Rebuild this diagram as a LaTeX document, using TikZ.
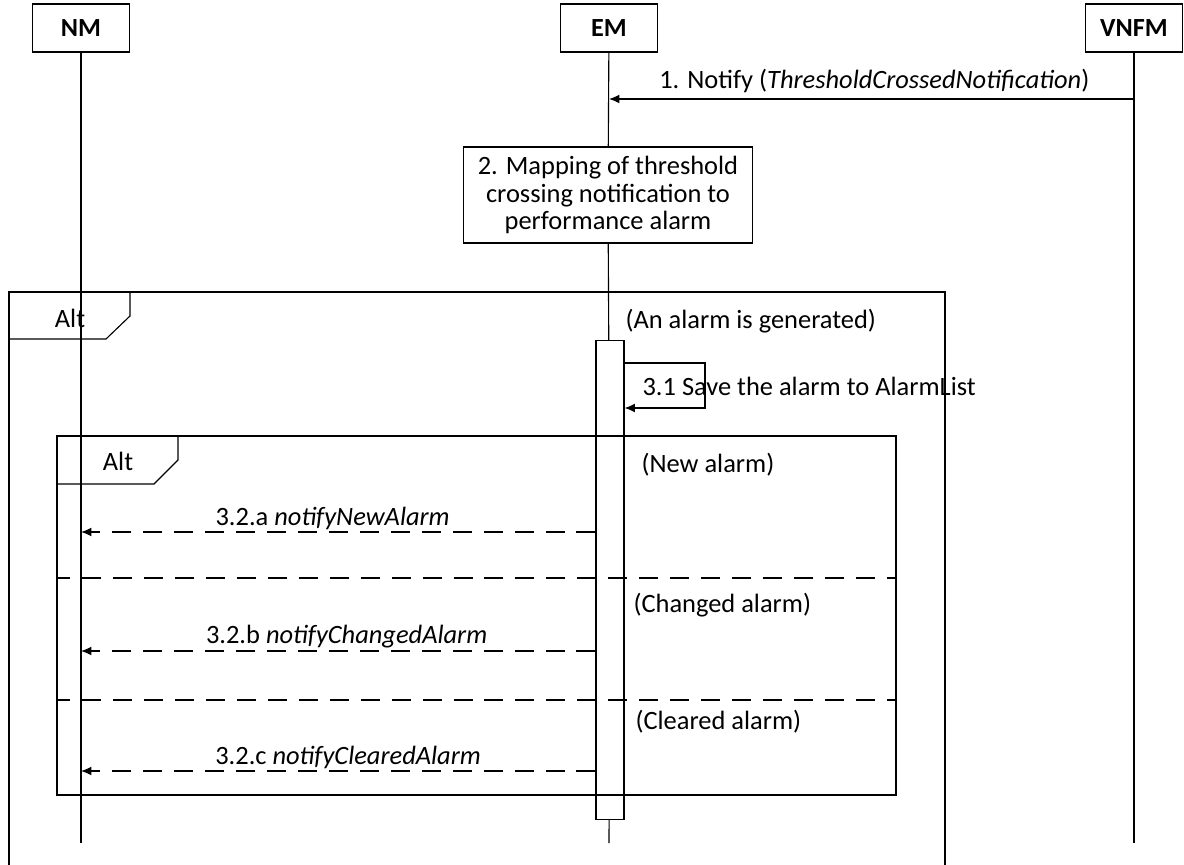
\documentclass[tikz,border=0pt]{standalone}
\usepackage{fontspec}
\setmainfont{Carlito}
\usepackage{tikz}
\usetikzlibrary{arrows.meta,positioning,calc}
\newcommand{\lbl}{\fontsize{18.8}{19.8}\selectfont}

\begin{document}
\begin{tikzpicture}[
  x=0.025cm,y=-0.025cm,
  >={Latex[length=2.6mm,width=2.2mm]},
  font=\lbl,
  line width=0.8pt,
  head/.style={draw,minimum width=2.425cm,minimum height=1.2cm,font=\fontsize{18.6}{20}\selectfont\bfseries},
  actbox/.style={draw,fill=white,minimum width=7.225cm,minimum height=2.4cm,align=center},
  bar/.style={draw,fill=white,minimum width=0.7cm,minimum height=11.95cm,inner sep=0pt},
  msg/.style={->},
  reply/.style={->,dash pattern=on 13.5pt off 8.5pt},
  guard/.style={anchor=west,inner sep=0pt}
]
\useasboundingbox (0,0) rectangle (1184,865);
% participants
\node[head] (nm) at (81,28) {NM};
\node[head] (em) at (609,28) {EM};
\node[head] (vnfm) at (1134,28) {VNFM};
\coordinate (nmend) at (81,843);
\coordinate (emend) at (609,843);
\coordinate (vnfmend) at (1134,843);
\node[actbox] (map) at (608,195) {2. Mapping of threshold\\crossing notification to\\performance alarm};
\node[bar] (act) at (610,580) {};
% lifelines
\draw (nm) -- (nmend);
\draw (vnfm) -- (vnfmend);
\draw (em) -- (map);
\draw (map) -- (act);
\draw (act) -- (emend);
% step 1
\coordinate (n1) at (1134,99);
\draw[msg] (n1) -- (em |- n1) node[midway,above=1pt,xshift=2pt] {1. Notify (\textit{ThresholdCrossedNotification})};
% outer alt
\draw (9,865) -- (9,292) -- (945,292) -- (945,865);
\draw (9,339) -- (106,339) -- (130,316) -- (130,292);
\node (alt1) at (70,318) {Alt};
\node[guard] (g1) at (625,321) {(An alarm is generated)};
% step 3.1
\coordinate (s1) at (705,363);
\coordinate (s2) at (705,408);
\draw[msg] (act.east |- s1) -- (s1) -- (s2) -- (act.east |- s2);
\node[guard] (save) at (642,386) {3.1 Save the alarm to AlarmList};
% inner alt
\draw (57,436) rectangle (896,795);
\draw (57,484) -- (154,484) -- (178,460) -- (178,436);
\node (alt2) at (118,461) {Alt};
\node[guard] (g2) at (641,465) {(New alarm)};
\node[guard] (g3) at (633,605) {(Changed alarm)};
\node[guard] (g4) at (635,722) {(Cleared alarm)};
\foreach \y in {578,700} {\draw[dash pattern=on 13.5pt off 8.5pt,dash phase=4pt] (57,\y) -- (896,\y);}
% notifications
\foreach \y/\dx/\lab in {532/-4/{3.2.a \textit{notifyNewAlarm}},651/6/{3.2.b \textit{notifyChangedAlarm}},771/7/{3.2.c \textit{notifyClearedAlarm}}} {
  \draw[reply] (act.west |- 0,\y) -- (nm |- 0,\y) node[midway,above,inner sep=1.5pt,xshift=\dx pt] {\lab};
}
\end{tikzpicture}
\end{document}
